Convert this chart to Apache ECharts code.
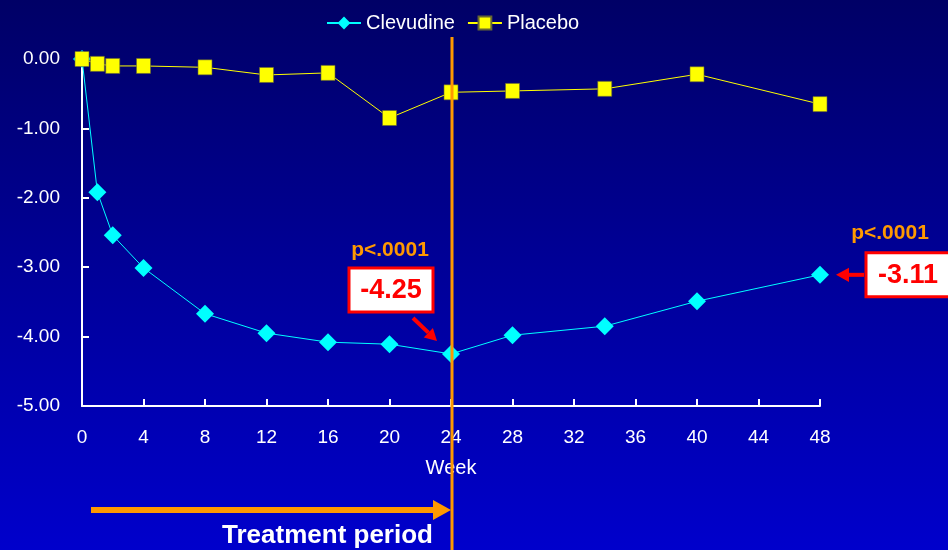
<!DOCTYPE html>
<html>
<head>
<meta charset="utf-8">
<script src="https://cdn.jsdelivr.net/npm/echarts@6/dist/echarts.min.js"></script>
<style>
  html, body { margin: 0; padding: 0; }
  #chart { width: 948px; height: 550px; }
</style>
</head>
<body>
<div id="chart"></div>
<script>
// Mean change from baseline by study week
const weeks = [0, 1, 2, 4, 8, 12, 16, 20, 24, 28, 34, 40, 48];
const clevudine = [0, -1.92, -2.54, -3.01, -3.67, -3.95, -4.08, -4.11, -4.25, -3.98, -3.85, -3.49, -3.11];
const placebo = [0, -0.07, -0.10, -0.10, -0.12, -0.23, -0.20, -0.85, -0.48, -0.46, -0.43, -0.22, -0.65];

// Highlighted comparisons (week, p-value text)
const callouts = [
  { week: 24, p: 'p<.0001' },
  { week: 48, p: 'p<.0001' }
];
const treatmentEnd = 24;

const FONT = '"Liberation Sans", Arial, sans-serif';
const chart = echarts.init(document.getElementById('chart'));

const pairs = (ys) => weeks.map((w, i) => [w, ys[i]]);

chart.setOption({
  animation: false,
  backgroundColor: {
    type: 'linear', x: 0, y: 0, x2: 0, y2: 1,
    colorStops: [
      { offset: 0, color: '#000066' },
      { offset: 1, color: '#0000cc' }
    ]
  },
  legend: {
    top: 8,
    left: 321,
    itemWidth: 34,
    itemHeight: 16,
    itemGap: 12,
    textStyle: { color: '#ffffff', fontSize: 20, fontFamily: FONT },
    data: ['Clevudine', 'Placebo']
  },
  grid: { left: 82, right: 128, top: 59, bottom: 144 },
  xAxis: {
    type: 'value',
    min: 0, max: 48, interval: 4,
    name: 'Week',
    nameLocation: 'middle',
    nameGap: 52,
    nameTextStyle: { color: '#ffffff', fontSize: 20, fontFamily: FONT },
    axisLine: { show: true, onZero: false, lineStyle: { color: '#ffffff', width: 2 } },
    axisTick: { show: true, inside: true, length: 7, lineStyle: { color: '#ffffff', width: 2 } },
    axisLabel: { color: '#ffffff', fontSize: 19, fontFamily: FONT, margin: 22 },
    splitLine: { show: false }
  },
  yAxis: {
    type: 'value',
    min: -5, max: 0, interval: 1,
    axisLine: { show: true, lineStyle: { color: '#ffffff', width: 2 } },
    axisTick: { show: true, inside: true, length: 7, lineStyle: { color: '#ffffff', width: 2 } },
    axisLabel: {
      color: '#ffffff', fontSize: 19, fontFamily: FONT, margin: 22,
      formatter: (v) => v.toFixed(2)
    },
    splitLine: { show: false }
  },
  series: [
    {
      name: 'Clevudine',
      type: 'line',
      data: pairs(clevudine),
      symbol: 'diamond',
      symbolSize: 18,
      itemStyle: { color: '#00ffff' },
      lineStyle: { color: '#00ffff', width: 1 },
      z: 3
    },
    {
      name: 'Placebo',
      type: 'line',
      data: pairs(placebo),
      symbol: 'rect',
      symbolSize: [14, 15],
      itemStyle: { color: '#ffff00', borderColor: '#666633', borderWidth: 0.6 },
      lineStyle: { color: '#ffff00', width: 1 },
      z: 4
    }
  ]
});

// Overlay annotations placed through the chart's own coordinate system
function arrow(x1, y1, x2, y2, color, width, head) {
  const ang = Math.atan2(y2 - y1, x2 - x1);
  const bx = x2 - head * Math.cos(ang), by = y2 - head * Math.sin(ang);
  const nx = -Math.sin(ang) * head * 0.55, ny = Math.cos(ang) * head * 0.55;
  return [
    { type: 'line', shape: { x1: x1, y1: y1, x2: bx, y2: by },
      style: { stroke: color, lineWidth: width }, z: 20 },
    { type: 'polygon', shape: { points: [[x2, y2], [bx + nx, by + ny], [bx - nx, by - ny]] },
      style: { fill: color }, z: 20 }
  ];
}

function valueBox(cx, cy, text) {
  return [
    { type: 'rect', shape: { x: cx - 42, y: cy - 22, width: 84, height: 44 },
      style: { fill: '#ffffff', stroke: '#ff0000', lineWidth: 3 }, z: 20 },
    { type: 'text', x: cx, y: cy + 1,
      style: { text: text, fill: '#ff0000', font: 'bold 27px ' + FONT, align: 'center', verticalAlign: 'middle' }, z: 21 }
  ];
}

function pText(cx, cy, text) {
  return { type: 'text', x: cx, y: cy,
    style: { text: text, fill: '#ff9900', font: 'bold 21px ' + FONT, align: 'center', verticalAlign: 'middle' }, z: 21 };
}

const els = [];
const vx = chart.convertToPixel({ gridIndex: 0 }, [treatmentEnd, 0])[0];
els.push({ type: 'line', shape: { x1: vx + 1, y1: 37, x2: vx + 1, y2: 550 },
  style: { stroke: '#ff9900', lineWidth: 3 }, z: 15 });

// Treatment period arrow along the bottom
const x0 = chart.convertToPixel({ gridIndex: 0 }, [0, 0])[0];
els.push(...arrow(x0 + 9, 510, vx, 510, '#ff9900', 6, 18));
els.push({ type: 'text', x: (x0 + vx) / 2 + 61, y: 536,
  style: { text: 'Treatment period', fill: '#ffffff', font: 'bold 26px ' + FONT, align: 'center', verticalAlign: 'middle' }, z: 21 });

// Callout for week 24: box above-left, arrow pointing down-right at the point
{
  const w = callouts[0].week, i = weeks.indexOf(w);
  const [px, py] = chart.convertToPixel({ gridIndex: 0 }, [w, clevudine[i]]);
  const cx = px - 60, cy = py - 64;
  els.push(pText(cx - 1, cy - 40, callouts[0].p));
  els.push(...valueBox(cx, cy, clevudine[i].toFixed(2)));
  els.push(...arrow(px - 38, py - 36, px - 14, py - 13, '#ff0000', 4, 12));
}
// Callout for week 48: box to the right, arrow pointing left at the point
{
  const w = callouts[1].week, i = weeks.indexOf(w);
  const [px, py] = chart.convertToPixel({ gridIndex: 0 }, [w, clevudine[i]]);
  const cx = px + 88, cy = py;
  els.push(pText(cx - 18, cy - 42, callouts[1].p));
  els.push(...valueBox(cx, cy, clevudine[i].toFixed(2)));
  els.push(...arrow(px + 44, py, px + 16, py, '#ff0000', 4, 13));
}

chart.setOption({ graphic: { elements: els } });
</script>
</body>
</html>
